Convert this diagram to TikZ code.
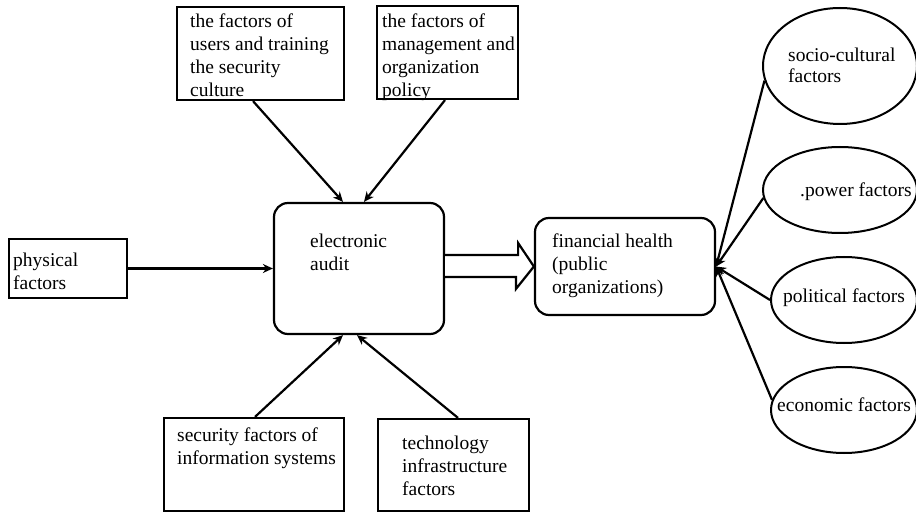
\documentclass[tikz,border=0pt]{standalone}
\usepackage{fontspec}
\setmainfont{Liberation Serif}
\usetikzlibrary{positioning,calc,arrows.meta,shapes.geometric}

\begin{document}
\begin{tikzpicture}[x=1pt,y=-1pt,
    box/.style={draw,line width=2.2pt,rectangle,inner sep=0pt},
    rbox/.style={box,rounded corners=14pt},
    oval/.style={draw,line width=2pt,ellipse,inner sep=0pt},
    txt/.style={anchor=north west,inner sep=0pt,align=left,
        font=\fontsize{19.5}{23}\selectfont},
    link/.style={line width=2.2pt,-{Stealth[length=10pt,width=9pt]}}]
    \useasboundingbox (0,0) rectangle (916,513);
    % Factor boxes
    \node[box,minimum width=167pt,minimum height=93pt] (users) at (260.5,53.5) {};
    \node[box,minimum width=141pt,minimum height=93pt] (policy) at (447.5,52.5) {};
    \node[box,minimum width=118pt,minimum height=59pt] (physical) at (68,268.5) {};
    \node[box,minimum width=180pt,minimum height=93pt] (infosys) at (254,464.5) {};
    \node[box,minimum width=151pt,minimum height=92pt] (techinf) at (453.5,465) {};
    % Audit and health
    \node[rbox,minimum width=170pt,minimum height=131pt] (audit) at (359,268.5) {};
    \node[rbox,minimum width=180pt,minimum height=97pt] (health) at (625,266.5) {};
    % Environment
    \node[oval,minimum width=154pt,minimum height=116pt] (socio) at (840,66) {};
    \node[oval,minimum width=154pt,minimum height=86pt] (power) at (840,190) {};
    \node[oval,minimum width=146pt,minimum height=86pt] (politic) at (844,300) {};
    \node[oval,minimum width=146pt,minimum height=86pt] (econ) at (844,410) {};
    % Texts
    \node[txt] (users-t) at (190,14) {the factors of\\users and training\\the security\\culture};
    \node[txt] (policy-t) at (382,14) {the factors of\\management and\\organization\\policy};
    \node[txt] (physical-t) at (13,253) {physical\\factors};
    \node[txt] (audit-t) at (310,234) {electronic\\audit};
    \node[txt] (health-t) at (552,234) {financial health\\(public\\organizations)};
    \node[txt] (infosys-t) at (177,428) {security factors of\\information systems};
    \node[txt] (techinf-t) at (402,436) {technology\\infrastructure\\factors};
    \node[txt,font=\fontsize{19.5}{21}\selectfont] (socio-t) at (788,48) {socio-cultural\\factors};
    \node[txt] (power-t) at (800,183) {.power factors};
    \node[txt] (politic-t) at (783,289) {political factors};
    \node[txt] (econ-t) at (777,398) {economic factors};
    % Arrows into audit
    \draw[link] ([xshift=-7.5pt]users.south) -- ([xshift=-16pt]audit.north);
    \draw[link] ([xshift=-2.5pt]policy.south) -- ([xshift=5pt]audit.north);
    \draw[link] (physical.east) -- (audit.west);
    \draw[link] ([xshift=1pt]infosys.north) -- ([xshift=-16pt]audit.south);
    \draw[link] ([xshift=4.5pt]techinf.north) -- ([xshift=-2pt]audit.south);
    % Double arrow
    \draw[line width=2.2pt,fill=white,line join=miter] ($(audit.east)+(0,-13.5)$) -- ++(73,0) -- ++(0,-12)
        -- (health.west) -- ++(-18,22.5) -- ++(0,-12) -- ($(audit.east)+(0,8.5)$);
    % Arrows into health
    \foreach \src/\ang in {socio/191,power/186,politic/180,econ/172}
        \draw[link] (\src.\ang) -- (health.east);
\end{tikzpicture}
\end{document}
